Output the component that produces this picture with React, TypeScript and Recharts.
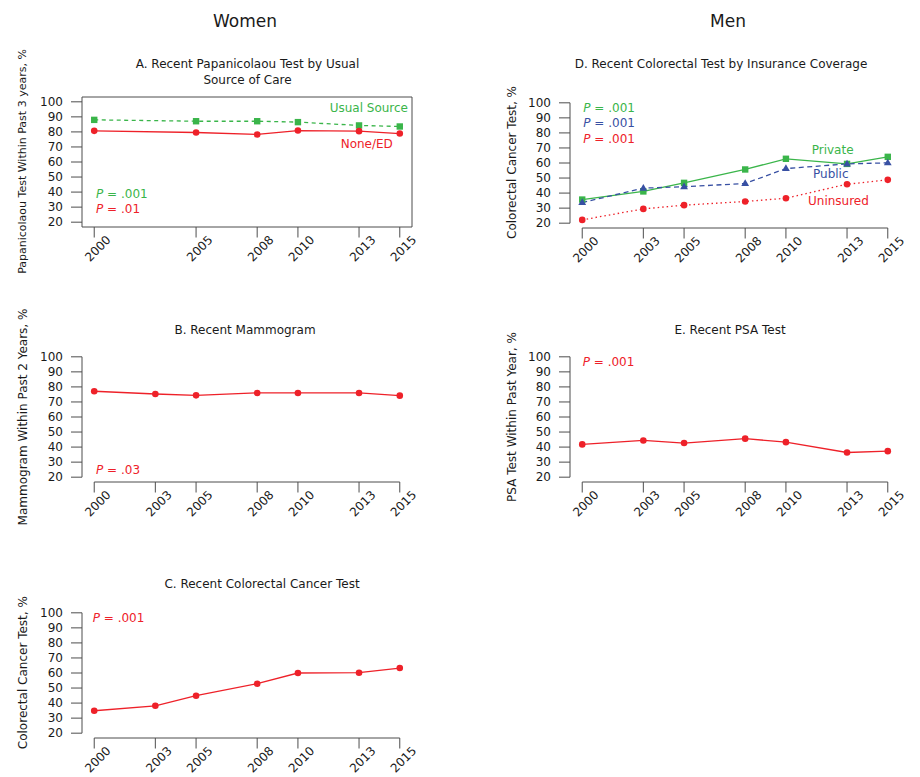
import React from 'react';
import { LineChart, Line, XAxis, YAxis, ReferenceLine, ReferenceArea } from 'recharts';

const FONT = '"DejaVu Sans", Verdana, sans-serif';
const GREEN = '#3AB54A';
const RED = '#EE2129';
const BLUE = '#3850A3';
const AXIS = '#4d4d4d';
const TEXT = '#1a1a1a';

// A. Papanicolaou test by usual source of care
const papYears = [2000, 2005, 2008, 2010, 2013, 2015];
const papUsualSource = [88.0, 87.1, 87.1, 86.5, 84.3, 83.6];
const papNoneED = [80.7, 79.6, 78.3, 80.9, 80.5, 78.9];

// B, C, D, E
const years = [2000, 2003, 2005, 2008, 2010, 2013, 2015];
const mammogram = [77.1, 75.3, 74.4, 76.0, 76.0, 76.0, 74.2];
const colorectalWomen = [34.9, 38.2, 44.9, 52.9, 60.0, 60.2, 63.3];
const colorectalPrivate = [35.7, 41.1, 46.8, 55.7, 62.8, 59.4, 64.1];
const colorectalPublic = [33.7, 43.3, 44.2, 46.4, 56.3, 59.4, 60.1];
const colorectalUninsured = [22.2, 29.5, 32.0, 34.4, 36.6, 45.9, 48.8];
const psa = [41.8, 44.4, 42.7, 45.6, 43.3, 36.4, 37.3];

const yTicks = [20, 30, 40, 50, 60, 70, 80, 90, 100];
const X_DOMAIN: [number, number] = [1999.4, 2015.6];
const Y_DOMAIN: [number, number] = [16.8, 103.2];

const PLOT_W = 330;
const PLOT_H = 130;
const AXIS_W = 82;
const MT = 6;
const XAXIS_H = 50;

const papData = papYears.map((year, i) => ({ year, usual: papUsualSource[i], none: papNoneED[i] }));
const mamData = years.map((year, i) => ({ year, v: mammogram[i] }));
const crcWomenData = years.map((year, i) => ({ year, v: colorectalWomen[i] }));
const crcMenData = years.map((year, i) => ({
  year,
  priv: colorectalPrivate[i],
  pub: colorectalPublic[i],
  unins: colorectalUninsured[i],
}));
const psaData = years.map((year, i) => ({ year, v: psa[i] }));

function YearTick({ x, y, payload }: any) {
  return (
    <text
      x={0}
      y={0}
      transform={`translate(${x + 3.5},${y + 9}) rotate(-45)`}
      textAnchor="middle"
      dy="0.35em"
      fontSize={12}
      fontFamily={FONT}
      fill={TEXT}
    >
      {payload.value}
    </text>
  );
}

const circleDot = (color: string) => (p: any) =>
  p.cx == null ? <g key={`c${p.index}`} /> : <circle key={`c${p.index}`} cx={p.cx} cy={p.cy} r={3.3} fill={color} stroke="none" />;

const squareDot = (color: string) => (p: any) =>
  p.cx == null ? <g key={`s${p.index}`} /> : <rect key={`s${p.index}`} x={p.cx - 3.2} y={p.cy - 3.2} width={6.4} height={6.4} fill={color} />;

const triangleDot = (color: string) => (p: any) =>
  p.cx == null ? (
    <g key={`t${p.index}`} />
  ) : (
    <polygon
      key={`t${p.index}`}
      points={`${p.cx},${p.cy - 4.2} ${p.cx - 3.9},${p.cy + 2.5} ${p.cx + 3.9},${p.cy + 2.5}`}
      fill={color}
    />
  );

function Panel({ left, plotTop, data, ticks, boxed, children }: any) {
  const frame = boxed
    ? [
        <ReferenceArea
          key="box"
          x1={X_DOMAIN[0]}
          x2={X_DOMAIN[1]}
          y1={Y_DOMAIN[0]}
          y2={Y_DOMAIN[1]}
          fill="none"
          fillOpacity={0}
          stroke={AXIS}
          strokeWidth={1}
        />,
      ]
    : [
        <ReferenceLine
          key="xl"
          segment={[{ x: 2000, y: Y_DOMAIN[0] }, { x: 2015, y: Y_DOMAIN[0] }]}
          stroke={AXIS}
          strokeWidth={1}
        />,
        <ReferenceLine
          key="yl"
          segment={[{ x: X_DOMAIN[0], y: 20 }, { x: X_DOMAIN[0], y: 100 }]}
          stroke={AXIS}
          strokeWidth={1}
        />,
      ];
  return (
    <div style={{ position: 'absolute', left, top: plotTop - MT }}>
      <LineChart
        width={AXIS_W + PLOT_W + 12}
        height={MT + PLOT_H + XAXIS_H}
        data={data}
        margin={{ top: MT, right: 12, bottom: 0, left: 0 }}
      >
        <XAxis
          dataKey="year"
          type="number"
          domain={X_DOMAIN}
          ticks={ticks}
          interval={0}
          allowDataOverflow
          stroke={AXIS}
          axisLine={false}
          tickLine={{ stroke: AXIS, strokeWidth: 1 }}
          tickSize={10.5}
          tickMargin={2}
          height={XAXIS_H}
          tick={(p: any) => <YearTick {...p} />}
        />
        <YAxis
          type="number"
          domain={Y_DOMAIN}
          ticks={yTicks}
          interval={0}
          allowDataOverflow
          stroke={AXIS}
          axisLine={false}
          tickLine={{ stroke: AXIS, strokeWidth: 1 }}
          tickSize={11}
          tickMargin={8}
          width={AXIS_W}
          tick={{ fill: TEXT, fontSize: 12, fontFamily: FONT }}
        />
        {frame}
        {children}
      </LineChart>
    </div>
  );
}

const P = ({ x, y, color, value }: any) => (
  <text x={x} y={y} fill={color}>
    <tspan fontStyle="italic">P</tspan> = {value}
  </text>
);

export default function App() {
  return (
    <div style={{ position: 'absolute', left: 0, top: 0, width: 920, height: 777, background: '#fff', fontFamily: FONT }}>
      <Panel left={0} plotTop={96.5} data={papData} ticks={papYears} boxed>
        <Line dataKey="usual" type="linear" stroke={GREEN} strokeWidth={1.3} strokeDasharray="4 3.5" dot={squareDot(GREEN)} isAnimationActive={false} />
        <Line dataKey="none" type="linear" stroke={RED} strokeWidth={1.3} dot={circleDot(RED)} isAnimationActive={false} />
      </Panel>
      <Panel left={0} plotTop={352.3} data={mamData} ticks={years}>
        <Line dataKey="v" type="linear" stroke={RED} strokeWidth={1.3} dot={circleDot(RED)} isAnimationActive={false} />
      </Panel>
      <Panel left={0} plotTop={607.7} data={crcWomenData} ticks={years}>
        <Line dataKey="v" type="linear" stroke={RED} strokeWidth={1.3} dot={circleDot(RED)} isAnimationActive={false} />
      </Panel>
      <Panel left={488} plotTop={97.5} data={crcMenData} ticks={years}>
        <Line dataKey="unins" type="linear" stroke={RED} strokeWidth={1.3} strokeDasharray="1.5 3" dot={circleDot(RED)} isAnimationActive={false} />
        <Line dataKey="priv" type="linear" stroke={GREEN} strokeWidth={1.3} dot={squareDot(GREEN)} isAnimationActive={false} />
        <Line dataKey="pub" type="linear" stroke={BLUE} strokeWidth={1.3} strokeDasharray="5 3.5" dot={triangleDot(BLUE)} isAnimationActive={false} />
      </Panel>
      <Panel left={488} plotTop={352.3} data={psaData} ticks={years}>
        <Line dataKey="v" type="linear" stroke={RED} strokeWidth={1.3} dot={circleDot(RED)} isAnimationActive={false} />
      </Panel>

      <svg
        width={920}
        height={777}
        style={{ position: 'absolute', left: 0, top: 0, pointerEvents: 'none' }}
        fontFamily={FONT}
      >
        <g fontSize={17} fill={TEXT} textAnchor="middle">
          <text x={245} y={27}>Women</text>
          <text x={728} y={27}>Men</text>
        </g>
        <g fontSize={12} fill={TEXT} textAnchor="middle">
          <text x={247.5} y={68}>A. Recent Papanicolaou Test by Usual</text>
          <text x={247.5} y={84}>Source of Care</text>
          <text x={245} y={334}>B. Recent Mammogram</text>
          <text x={262} y={588}>C. Recent Colorectal Cancer Test</text>
          <text x={721} y={68}>D. Recent Colorectal Test by Insurance Coverage</text>
          <text x={730} y={334}>E. Recent PSA Test</text>
        </g>
        <g fill={TEXT} textAnchor="middle" dominantBaseline="central">
          <text fontSize={11} transform="translate(22.5,161.5) rotate(-90)">Papanicolaou Test Within Past 3 years, %</text>
          <text fontSize={12} transform="translate(22.5,417) rotate(-90)">Mammogram Within Past 2 Years, %</text>
          <text fontSize={12} transform="translate(22.5,672.7) rotate(-90)">Colorectal Cancer Test, %</text>
          <text fontSize={12} transform="translate(511.5,162.5) rotate(-90)">Colorectal Cancer Test, %</text>
          <text fontSize={12} transform="translate(511.5,417) rotate(-90)">PSA Test Within Past Year, %</text>
        </g>
        <g fontSize={12}>
          <text x={408} y={111.5} fill={GREEN} textAnchor="end">Usual Source</text>
          <text x={340.7} y={147.5} fill={RED}>None/ED</text>
          <P x={96} y={197.5} color={GREEN} value=".001" />
          <P x={96} y={212.5} color={RED} value=".01" />
          <P x={96} y={473.5} color={RED} value=".03" />
          <P x={92.7} y={622} color={RED} value=".001" />
          <P x={583.3} y={111.5} color={GREEN} value=".001" />
          <P x={583.3} y={126.5} color={BLUE} value=".001" />
          <P x={583.3} y={142.5} color={RED} value=".001" />
          <text x={811.7} y={153.5} fill={GREEN}>Private</text>
          <text x={813} y={177.5} fill={BLUE}>Public</text>
          <text x={808} y={205} fill={RED}>Uninsured</text>
          <P x={582.7} y={366} color={RED} value=".001" />
        </g>
      </svg>
    </div>
  );
}
